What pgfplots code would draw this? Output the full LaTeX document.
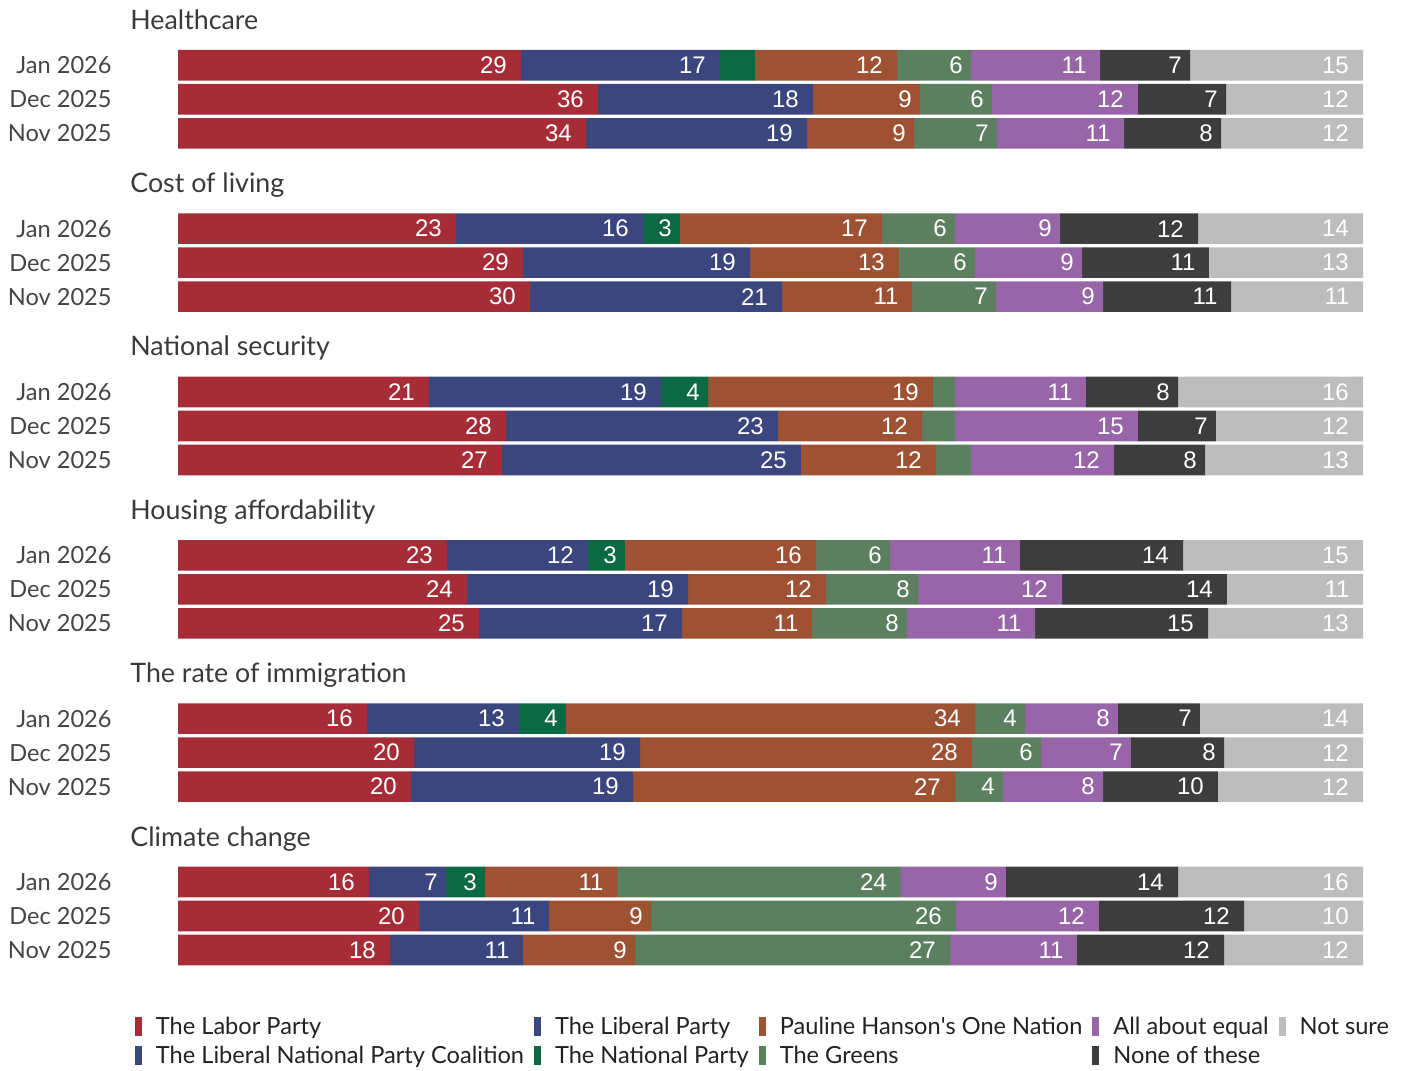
\documentclass[border=0pt]{standalone}
\usepackage{pgfplots}
\pgfplotsset{compat=1.18}
\usepackage{graphicx}
\usepackage{fontspec}
\setmainfont{Lato}
\newfontfamily\barfont{Liberation Sans}
\definecolor{labor}{HTML}{A62D38}
\definecolor{coal}{HTML}{3B467E}
\definecolor{natl}{HTML}{0B6943}
\definecolor{onen}{HTML}{9E5233}
\definecolor{grns}{HTML}{5C7F5F}
\definecolor{equal}{HTML}{9865A8}
\definecolor{nonet}{HTML}{3D3D3D}
\definecolor{nsure}{HTML}{BDBDBD}
\definecolor{titlegray}{HTML}{3A3A3A}
\definecolor{monthgray}{HTML}{454545}
\definecolor{leggray}{HTML}{222222}
\begin{document}
\begin{tikzpicture}
\useasboundingbox (0,0) rectangle (703pt,535pt);
\begin{axis}[
  at={(89pt,0pt)}, anchor=south west,
  scale only axis, width=592.5pt, height=535pt,
  xmin=0, xmax=100, ymin=0, ymax=1070, y dir=reverse,
  enlargelimits=false, clip=false,
  xbar stacked, bar width=15.3pt,
  axis line style={draw=none}, tick style={draw=none},
  xtick=\empty,
  ytick={65.3,99.3,133.3,228.64,262.64,296.64,391.98,425.98,459.98,555.32,589.32,623.32,718.66,752.66,786.66,882,916,950},
  yticklabels={Jan 2026,Dec 2025,Nov 2025,Jan 2026,Dec 2025,Nov 2025,Jan 2026,Dec 2025,Nov 2025,Jan 2026,Dec 2025,Nov 2025,Jan 2026,Dec 2025,Nov 2025,Jan 2026,Dec 2025,Nov 2025},
  yticklabel style={font=\fontsize{11.8}{14}\selectfont, text=monthgray, anchor=east, inner sep=0pt, xshift=-33pt},
  point meta=explicit symbolic,
  visualization depends on=rawx \as \rawx,
  nodes near coords={\barfont\fontsize{12}{14}\selectfont\pgfplotspointmeta\hspace*{1pt}\scalebox{0.444}[1]{\phantom{\pgfplotspointmeta}}},
  every node near coord/.append style={anchor=east, inner sep=0pt, text=white, xshift=\rawx*2.9625pt},
  legend columns=2, transpose legend,
  legend image code/.code={\path[#1,draw=none] (0pt,-4.75pt) rectangle (3.5pt,4.75pt);},
  legend style={at={(axis cs:-3.63,1016.7)}, anchor=north west, draw=none, fill=none,
    inner sep=0pt, outer sep=0pt, font=\fontsize{11.8}{13}\selectfont, text=leggray,
    row sep=4.9pt, nodes={inner sep=0pt, text height=8.2pt, text depth=0pt},
    /tikz/every odd column/.append style={column sep=7pt},
    /tikz/every even column/.append style={column sep=5pt},
    cells={anchor=west}},
]
\addplot[fill=labor, draw=none] coordinates {(28.95,65.3)[29] (35.44,99.3)[36] (34.43,133.3)[34] (23.46,228.64)[23] (29.11,262.64)[29] (29.70,296.64)[30] (21.18,391.98)[21] (27.68,425.98)[28] (27.34,459.98)[27] (22.70,555.32)[23] (24.39,589.32)[24] (25.40,623.32)[25] (15.95,718.66)[16] (19.92,752.66)[20] (19.66,786.66)[20] (16.12,882)[16] (20.34,916)[20] (17.89,950)[18]};
\addlegendentry{The Labor Party}
\addplot[fill=coal, draw=none] coordinates {(0,65.3)[] (18.15,99.3)[18] (18.65,133.3)[19] (0,228.64)[] (19.16,262.64)[19] (21.27,296.64)[21] (0,391.98)[] (22.95,425.98)[23] (25.23,459.98)[25] (0,555.32)[] (18.65,589.32)[19] (17.13,623.32)[17] (0,718.66)[] (19.07,752.66)[19] (18.74,786.66)[19] (0,882)[] (10.97,916)[11] (11.22,950)[11]};
\addlegendentry{The Liberal National Party Coalition}
\addplot[fill=coal, draw=none] coordinates {(16.79,65.3)[17] (0,99.3)[] (0,133.3)[] (15.78,228.64)[16] (0,262.64)[] (0,296.64)[] (19.58,391.98)[19] (0,425.98)[] (0,459.98)[] (11.90,555.32)[12] (0,589.32)[] (0,623.32)[] (12.83,718.66)[13] (0,752.66)[] (0,786.66)[] (6.50,882)[7] (0,916)[] (0,950)[]};
\addlegendentry{The Liberal Party}
\addplot[fill=natl, draw=none] coordinates {(2.95,65.3)[] (0,99.3)[] (0,133.3)[] (3.12,228.64)[3] (0,262.64)[] (0,296.64)[] (3.97,391.98)[4] (0,425.98)[] (0,459.98)[] (3.12,555.32)[3] (0,589.32)[] (0,623.32)[] (3.96,718.66)[4] (0,752.66)[] (0,786.66)[] (3.29,882)[3] (0,916)[] (0,950)[]};
\addlegendentry{The National Party}
\addplot[fill=onen, draw=none] coordinates {(11.99,65.3)[12] (9.03,99.3)[9] (9.03,133.3)[9] (17.05,228.64)[17] (12.57,262.64)[13] (10.97,296.64)[11] (18.98,391.98)[19] (12.15,425.98)[12] (11.40,459.98)[12] (16.12,555.32)[16] (11.64,589.32)[12] (10.97,623.32)[11] (34.52,718.66)[34] (28.01,752.66)[28] (27.17,786.66)[27] (11.14,882)[11] (8.61,916)[9] (9.46,950)[9]};
\addlegendentry{Pauline Hanson\textquotesingle s One Nation}
\addplot[fill=grns, draw=none] coordinates {(6.24,65.3)[6] (6.07,99.3)[6] (7.00,133.3)[7] (6.16,228.64)[6] (6.42,262.64)[6] (7.09,296.64)[7] (1.86,391.98)[] (2.79,425.98)[] (2.95,459.98)[] (6.24,555.32)[6] (7.77,589.32)[8] (8.02,623.32)[8] (4.22,718.66)[4] (5.83,752.66)[6] (4.05,786.66)[4] (23.96,882)[24] (25.73,916)[26] (26.58,950)[27]};
\addlegendentry{The Greens}
\addplot[fill=equal, draw=none] coordinates {(10.89,65.3)[11] (12.32,99.3)[12] (10.72,133.3)[11] (8.86,228.64)[9] (9.03,262.64)[9] (9.03,296.64)[9] (11.05,391.98)[11] (15.44,425.98)[15] (12.07,459.98)[12] (10.97,555.32)[11] (12.15,589.32)[12] (10.80,623.32)[11] (7.84,718.66)[8] (7.59,752.66)[7] (8.44,786.66)[8] (8.86,882)[9] (12.07,916)[12] (10.71,950)[11]};
\addlegendentry{All about equal}
\addplot[fill=nonet, draw=none] coordinates {(7.59,65.3)[7] (7.43,99.3)[7] (8.19,133.3)[8] (11.65,228.64)[12] (10.71,262.64)[11] (10.80,296.64)[11] (7.77,391.98)[8] (6.58,425.98)[7] (7.68,459.98)[8] (13.76,555.32)[14] (13.92,589.32)[14] (14.60,623.32)[15] (6.92,718.66)[7] (7.85,752.66)[8] (9.70,786.66)[10] (14.52,882)[14] (12.24,916)[12] (12.41,950)[12]};
\addlegendentry{None of these}
\addplot[fill=nsure, draw=none] coordinates {(14.60,65.3)[15] (11.56,99.3)[12] (11.98,133.3)[12] (13.92,228.64)[14] (13.00,262.64)[13] (11.14,296.64)[11] (15.61,391.98)[16] (12.41,425.98)[12] (13.33,459.98)[13] (15.19,555.32)[15] (11.48,589.32)[11] (13.08,623.32)[13] (13.76,718.66)[14] (11.73,752.66)[12] (12.24,786.66)[12] (15.61,882)[16] (10.04,916)[10] (11.73,950)[12]};
\addlegendentry{Not sure}
\node[anchor=base west, inner sep=0pt, font=\fontsize{13.4}{15}\selectfont, text=titlegray] at (axis cs:-4.05,29.3) {Healthcare};
\node[anchor=base west, inner sep=0pt, font=\fontsize{13.4}{15}\selectfont, text=titlegray] at (axis cs:-4.05,192.64) {Cost of living};
\node[anchor=base west, inner sep=0pt, font=\fontsize{13.4}{15}\selectfont, text=titlegray] at (axis cs:-4.05,355.98) {National security};
\node[anchor=base west, inner sep=0pt, font=\fontsize{13.4}{15}\selectfont, text=titlegray] at (axis cs:-4.05,519.32) {Housing affordability};
\node[anchor=base west, inner sep=0pt, font=\fontsize{13.4}{15}\selectfont, text=titlegray] at (axis cs:-4.05,682.66) {The rate of immigration};
\node[anchor=base west, inner sep=0pt, font=\fontsize{13.4}{15}\selectfont, text=titlegray] at (axis cs:-4.05,846) {Climate change};
\end{axis}
\end{tikzpicture}
\end{document}
